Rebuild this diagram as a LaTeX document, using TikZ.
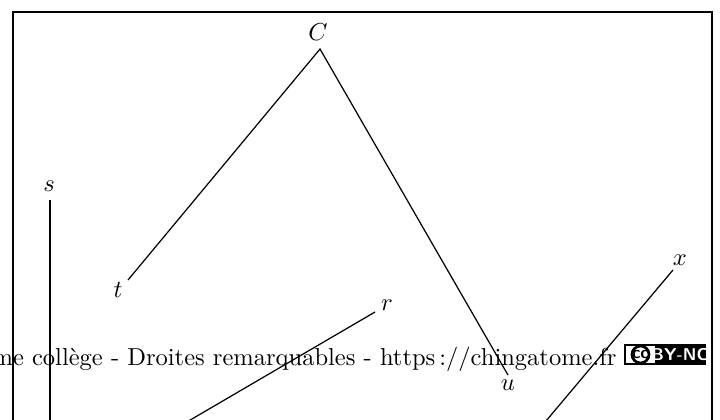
\documentclass[tikz,border=0pt]{standalone}
\usepackage{fontspec}
\begin{document}
\begin{tikzpicture}[x=0.408pt,y=-0.408pt,
  lbl/.style={inner sep=0pt},
  seg/.style={line width=0.5pt},
  framestyle/.style={line width=0.7pt}]
\useasboundingbox (0,0) rectangle (720,419);
\draw[framestyle] (13,12) rectangle (712,450);
% points
\coordinate (C) at (320,49);
\coordinate (T) at (128,280);
\coordinate (U) at (508,375);
\coordinate (S1) at (50,200);
\coordinate (S2) at (50,450);
\coordinate (R1) at (375,312);
\coordinate (R2) at (156,440);
\coordinate (X1) at (673,270);
\coordinate (X2) at (530,440);
% labels
\node[lbl] (Cl) at (318,32) {$C$};
\node[lbl] (tl) at (118,290) {$t$};
\node[lbl] (ul) at (508,385) {$u$};
\node[lbl] (sl) at (49,186) {$s$};
\node[lbl] (rl) at (387,305) {$r$};
\node[lbl] (xl) at (680,260) {$x$};
% lines
\draw[seg] (T) -- (C) -- (U);
\draw[seg] (S1) -- (S2);
\draw[seg] (R1) -- (R2);
\draw[seg] (X1) -- (X2);
% footer
\node[lbl,anchor=base east] (foot) at (617,365) {Chingatome collège - Droites remarquables - https\,://chingatome.fr};
% badge
\fill (624,344) rectangle (706,365);
\fill[white] (626,346) rectangle (655,363);
\draw[line width=1.1pt] (640.5,354.5) circle (8.5);
\node[lbl,font=\sffamily\bfseries\fontsize{7}{7}\selectfont] (cc) at (640.5,354.5) {cc};
\node[lbl,font=\sffamily\bfseries\fontsize{7}{7}\selectfont,text=white] (by) at (680,354.5) {BY-NC};
\end{tikzpicture}
\end{document}
